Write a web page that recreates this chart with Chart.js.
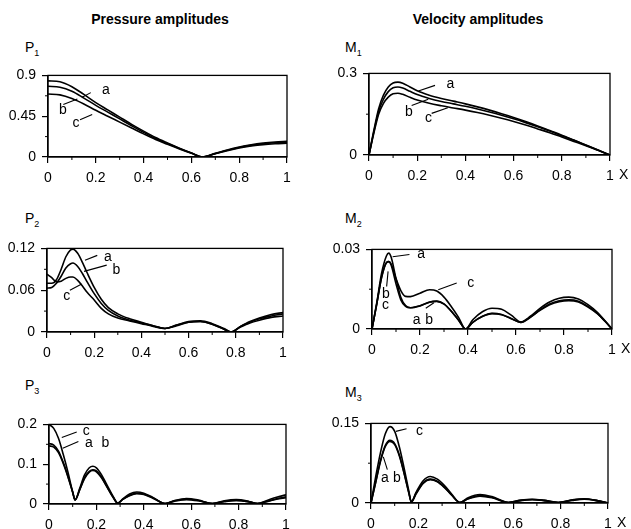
<!DOCTYPE html>
<html>
<head>
<meta charset="utf-8">
<script src="https://cdn.jsdelivr.net/npm/chart.js@4.4.0/dist/chart.umd.min.js"></script>
<style>
  body { margin: 0; background: #fff; width: 631px; height: 529px; position: relative; overflow: hidden;
         font-family: "Liberation Sans", Arial, sans-serif; color: #000; }
  .title { position: absolute; font-weight: bold; font-size: 14px; transform: translateX(-50%); white-space: nowrap; }
  .ylab { position: absolute; font-size: 14px; line-height: 16px; }
  .ylab span { font-size: 9px; position: relative; top: 4px; }
  canvas { position: absolute; }
</style>
</head>
<body>
<div class="title" style="left:160px;top:11px">Pressure amplitudes</div>
<div class="title" style="left:478px;top:11px">Velocity amplitudes</div>
<div class="ylab" style="left:25px;top:39px">P<span>1</span></div>
<div class="ylab" style="left:345px;top:39px">M<span>1</span></div>
<div class="ylab" style="left:25px;top:210px">P<span>2</span></div>
<div class="ylab" style="left:345px;top:210px">M<span>2</span></div>
<div class="ylab" style="left:25px;top:377px">P<span>3</span></div>
<div class="ylab" style="left:345px;top:384px">M<span>3</span></div>
<script>
// x ticks shared by all panels
const xTicks = [0, 0.2, 0.4, 0.6, 0.8, 1];
const xMinor = [0.1, 0.3, 0.5, 0.7, 0.9];

// P1 - pressure, mode 1
const p1X = [0, 0.05, 0.1, 0.15, 0.2, 0.25, 0.3, 0.35, 0.4, 0.45, 0.5, 0.55, 0.6, 0.645, 0.7, 0.75, 0.8, 0.85, 0.9, 0.95, 1];
const p1A = [0.84, 0.83, 0.775, 0.69, 0.6, 0.52, 0.44, 0.36, 0.285, 0.215, 0.155, 0.098, 0.045, 0, 0.04, 0.078, 0.11, 0.135, 0.153, 0.165, 0.172];
const p1B = [0.78, 0.77, 0.725, 0.65, 0.57, 0.495, 0.42, 0.345, 0.272, 0.205, 0.148, 0.094, 0.043, 0, 0.038, 0.074, 0.105, 0.128, 0.146, 0.157, 0.163];
const p1C = [0.695, 0.685, 0.645, 0.585, 0.515, 0.45, 0.385, 0.32, 0.255, 0.193, 0.14, 0.089, 0.041, 0, 0.036, 0.07, 0.099, 0.121, 0.137, 0.146, 0.151];
const p1YTicks = [0, 0.45, 0.9];
const p1YMinor = [0.225, 0.675];

// M1 - velocity, mode 1
const m1X = [0, 0.02, 0.04, 0.06, 0.08, 0.1, 0.12, 0.14, 0.17, 0.2, 0.25, 0.3, 0.35, 0.4, 0.45, 0.5, 0.55, 0.6, 0.65, 0.7, 0.75, 0.8, 0.85, 0.9, 0.95, 1];
const m1A = [0, 0.09, 0.17, 0.22, 0.25, 0.265, 0.268, 0.264, 0.25, 0.236, 0.22, 0.208, 0.198, 0.188, 0.177, 0.165, 0.152, 0.138, 0.123, 0.107, 0.09, 0.073, 0.055, 0.037, 0.018, 0];
const m1B = [0, 0.085, 0.16, 0.205, 0.233, 0.247, 0.25, 0.246, 0.234, 0.222, 0.208, 0.197, 0.188, 0.179, 0.169, 0.158, 0.146, 0.133, 0.119, 0.104, 0.088, 0.071, 0.054, 0.036, 0.018, 0];
const m1C = [0, 0.08, 0.15, 0.19, 0.213, 0.225, 0.227, 0.223, 0.212, 0.202, 0.19, 0.181, 0.173, 0.165, 0.156, 0.146, 0.135, 0.123, 0.11, 0.096, 0.082, 0.066, 0.05, 0.034, 0.017, 0];
const m1YTicks = [0, 0.3];
const m1YMinor = [0.15];

// P2
const p2X = [0, 0.02, 0.04, 0.06, 0.08, 0.1, 0.11, 0.13, 0.15, 0.17, 0.2, 0.23, 0.26, 0.3, 0.35, 0.4, 0.45, 0.5, 0.55, 0.6, 0.65, 0.7, 0.75, 0.78, 0.82, 0.86, 0.9, 0.95, 1];
const p2A = [0.07, 0.07, 0.075, 0.09, 0.108, 0.118, 0.119, 0.113, 0.1, 0.085, 0.064, 0.047, 0.035, 0.026, 0.019, 0.014, 0.009, 0.005, 0.01, 0.015, 0.016, 0.012, 0.005, 0, 0.008, 0.015, 0.02, 0.025, 0.028];
const p2B = [0.063, 0.064, 0.07, 0.08, 0.092, 0.098, 0.099, 0.094, 0.084, 0.072, 0.055, 0.041, 0.031, 0.023, 0.017, 0.013, 0.009, 0.005, 0.01, 0.014, 0.015, 0.011, 0.004, 0, 0.008, 0.014, 0.019, 0.023, 0.026];
const p2C = [0.083, 0.078, 0.072, 0.073, 0.077, 0.079, 0.079, 0.074, 0.066, 0.057, 0.046, 0.034, 0.026, 0.02, 0.016, 0.012, 0.008, 0.005, 0.009, 0.014, 0.015, 0.011, 0.004, 0, 0.007, 0.013, 0.017, 0.021, 0.023];
const p2YTicks = [0, 0.06, 0.12];
const p2YMinor = [0.03, 0.09];

// M2
const m2X = [0, 0.02, 0.04, 0.06, 0.07, 0.08, 0.1, 0.12, 0.14, 0.16, 0.2, 0.24, 0.27, 0.3, 0.33, 0.36, 0.39, 0.42, 0.46, 0.5, 0.54, 0.58, 0.62, 0.66, 0.7, 0.74, 0.78, 0.82, 0.86, 0.9, 0.94, 0.97, 1];
const m2A = [0, 0.01, 0.021, 0.0275, 0.0286, 0.027, 0.019, 0.012, 0.0088, 0.008, 0.0088, 0.0102, 0.0105, 0.0095, 0.0068, 0.0035, 0, 0.0025, 0.0048, 0.0059, 0.0055, 0.004, 0.0025, 0.0045, 0.0072, 0.0094, 0.0106, 0.011, 0.0105, 0.0085, 0.0058, 0.003, 0];
const m2B = [0, 0.0095, 0.0195, 0.025, 0.0254, 0.024, 0.017, 0.011, 0.0085, 0.008, 0.0087, 0.0101, 0.0104, 0.0094, 0.0067, 0.0034, 0, 0.0025, 0.0047, 0.0058, 0.0054, 0.0039, 0.0025, 0.0044, 0.007, 0.0091, 0.0103, 0.0107, 0.0102, 0.0083, 0.0057, 0.003, 0];
const m2C = [0, 0.0095, 0.0195, 0.025, 0.0254, 0.0245, 0.019, 0.0145, 0.0123, 0.0122, 0.0135, 0.0148, 0.0143, 0.012, 0.0085, 0.0045, 0, 0.0035, 0.0065, 0.0078, 0.0074, 0.0052, 0.0027, 0.0048, 0.0078, 0.0102, 0.0116, 0.012, 0.0113, 0.0092, 0.0062, 0.0032, 0];
const m2YTicks = [0, 0.03];
const m2YMinor = [0.015];

// P3
const p3X = [0, 0.02, 0.04, 0.06, 0.08, 0.1, 0.11, 0.13, 0.15, 0.17, 0.185, 0.2, 0.22, 0.25, 0.27, 0.29, 0.31, 0.34, 0.37, 0.4, 0.44, 0.49, 0.53, 0.58, 0.63, 0.69, 0.74, 0.79, 0.84, 0.88, 0.92, 0.96, 1];
const p3A = [0.152, 0.148, 0.133, 0.105, 0.07, 0.03, 0.01, 0.037, 0.066, 0.082, 0.086, 0.083, 0.069, 0.038, 0.018, 0.002, 0.011, 0.022, 0.027, 0.025, 0.015, 0.001, 0.008, 0.012, 0.009, 0.001, 0.007, 0.009, 0.006, 0.001, 0.007, 0.013, 0.018];
const p3B = [0.146, 0.143, 0.129, 0.102, 0.068, 0.029, 0.01, 0.036, 0.064, 0.08, 0.084, 0.081, 0.067, 0.037, 0.017, 0.002, 0.011, 0.021, 0.026, 0.024, 0.014, 0.001, 0.007, 0.011, 0.008, 0.001, 0.006, 0.009, 0.006, 0.001, 0.006, 0.012, 0.016];
const p3C = [0.2, 0.19, 0.165, 0.125, 0.08, 0.03, 0.01, 0.04, 0.073, 0.091, 0.095, 0.091, 0.075, 0.042, 0.02, 0.002, 0.012, 0.025, 0.03, 0.027, 0.016, 0.001, 0.009, 0.014, 0.01, 0.001, 0.008, 0.011, 0.007, 0.001, 0.009, 0.017, 0.023];
const p3YTicks = [0, 0.1, 0.2];
const p3YMinor = [0.05, 0.15];

// M3
const m3X = [0, 0.02, 0.04, 0.06, 0.08, 0.1, 0.12, 0.14, 0.16, 0.17, 0.19, 0.22, 0.25, 0.28, 0.31, 0.34, 0.375, 0.41, 0.46, 0.51, 0.58, 0.63, 0.68, 0.73, 0.79, 0.85, 0.9, 0.95, 1];
const m3A = [0, 0.04, 0.08, 0.108, 0.118, 0.112, 0.09, 0.056, 0.019, 0.002, 0.018, 0.038, 0.045, 0.041, 0.03, 0.015, 0.001, 0.008, 0.014, 0.011, 0.001, 0.005, 0.0065, 0.005, 0.001, 0.0055, 0.0075, 0.005, 0];
const m3B = [0, 0.039, 0.078, 0.106, 0.116, 0.11, 0.088, 0.055, 0.018, 0.002, 0.017, 0.037, 0.044, 0.04, 0.029, 0.015, 0.001, 0.008, 0.013, 0.01, 0.001, 0.0045, 0.006, 0.0045, 0.001, 0.005, 0.007, 0.0045, 0];
const m3C = [0, 0.05, 0.095, 0.13, 0.144, 0.135, 0.105, 0.065, 0.022, 0.002, 0.02, 0.042, 0.05, 0.045, 0.033, 0.017, 0.001, 0.01, 0.016, 0.012, 0.001, 0.005, 0.007, 0.005, 0.001, 0.006, 0.008, 0.005, 0];
const m3YTicks = [0, 0.15];
const m3YMinor = [0.075];

// curve labels (text, x, y) and leader lines (x1, y1, x2, y2), in data units
const p1Labels = [["a", 0.226, 0.736], ["b", 0.046, 0.52], ["c", 0.102, 0.37]];
const p1Leaders = [[0.143, 0.66, 0.179, 0.71], [0.064, 0.58, 0.123, 0.64], [0.134, 0.41, 0.185, 0.47]];
const m1Labels = [["a", 0.322, 0.259], ["b", 0.149, 0.159], ["c", 0.232, 0.136]];
const m1Leaders = [[0.205, 0.235, 0.274, 0.256], [0.177, 0.182, 0.246, 0.205], [0.26, 0.153, 0.327, 0.174]];
const p2Labels = [["a", 0.242, 0.108], ["b", 0.278, 0.089], ["c", 0.069, 0.0516]];
const p2Leaders = [[0.161, 0.103, 0.213, 0.11], [0.157, 0.087, 0.253, 0.096], [0.097, 0.06, 0.147, 0.069]];
const m2Labels = [["a", 0.189, 0.0281], ["b", 0.042, 0.0133], ["c", 0.042, 0.0091], ["c", 0.397, 0.0171], ["a", 0.17, 0.0034], ["b", 0.222, 0.0034]];
const m2Leaders = [[0.086, 0.0272, 0.156, 0.0281], [0.067, 0.0217, 0.061, 0.016], [0.276, 0.0148, 0.353, 0.0173], [0.224, 0.0078, 0.258, 0.0099]];
const p3Labels = [["c", 0.142, 0.184], ["a", 0.152, 0.153], ["b", 0.222, 0.153]];
const p3Leaders = [[0.054, 0.167, 0.117, 0.181], [0.058, 0.14, 0.124, 0.157]];
const m3Labels = [["c", 0.19, 0.136], ["a", 0.042, 0.046], ["b", 0.093, 0.046]];
const m3Leaders = [[0.105, 0.135, 0.15, 0.14], [0.052, 0.087, 0.069, 0.063]];

const FONT = "'Liberation Sans', Arial, sans-serif";
const YW = 48, XH = 30, PT = 8, PR = 26;

function makePanel(box, xs, curves, yMax, yTicks, yMinor, labels, leaders, showX) {
  const cv = document.createElement("canvas");
  const w = box.r - box.l + YW + PR, h = box.b - box.t + PT + XH;
  cv.width = w; cv.height = h;
  cv.style.left = (box.l - YW) + "px";
  cv.style.top = (box.t - PT) + "px";
  document.body.appendChild(cv);

  const deco = {
    id: "deco",
    afterDraw(chart) {
      const { ctx, chartArea: a, scales } = chart;
      const sx = scales.x, sy = scales.y;
      ctx.save();
      ctx.strokeStyle = "#000";
      ctx.lineWidth = 1.3;
      ctx.strokeRect(a.left, a.top, a.right - a.left, a.bottom - a.top);
      ctx.lineWidth = 1;
      ctx.beginPath();
      xMinor.forEach(v => {
        const px = sx.getPixelForValue(v);
        ctx.moveTo(px, a.bottom); ctx.lineTo(px, a.bottom + 3);
      });
      yMinor.forEach(v => {
        const py = sy.getPixelForValue(v);
        ctx.moveTo(a.left, py); ctx.lineTo(a.left - 3, py);
      });
      ctx.stroke();
      ctx.lineWidth = 1.1;
      ctx.beginPath();
      leaders.forEach(([x1, y1, x2, y2]) => {
        ctx.moveTo(sx.getPixelForValue(x1), sy.getPixelForValue(y1));
        ctx.lineTo(sx.getPixelForValue(x2), sy.getPixelForValue(y2));
      });
      ctx.stroke();
      ctx.fillStyle = "#000";
      ctx.font = "14px " + FONT;
      ctx.textAlign = "left";
      ctx.textBaseline = "middle";
      labels.forEach(([t, x, y]) => {
        ctx.fillText(t, sx.getPixelForValue(x), sy.getPixelForValue(y));
      });
      if (showX) {
        ctx.fillText("X", a.right + 9, a.bottom + 20);
      }
      ctx.restore();
    }
  };

  return new Chart(cv, {
    type: "line",
    data: {
      datasets: curves.map(ys => ({
        data: xs.map((x, i) => ({ x: x, y: ys[i] })),
        borderColor: "#000",
        borderWidth: 1.6,
        pointRadius: 0,
        fill: false,
        cubicInterpolationMode: "monotone"
      }))
    },
    options: {
      responsive: false,
      animation: false,
      events: [],
      layout: { padding: { left: 0, top: PT, right: PR, bottom: 0 } },
      plugins: { legend: { display: false }, tooltip: { enabled: false } },
      scales: {
        x: {
          type: "linear", min: 0, max: 1,
          afterBuildTicks: s => { s.ticks = xTicks.map(v => ({ value: v })); },
          afterFit: s => { s.height = XH; },
          grid: { drawOnChartArea: false, tickLength: 6, color: "#000", lineWidth: 1.2 },
          border: { color: "#000", width: 1.3 },
          ticks: { color: "#000", font: { family: FONT, size: 14 }, padding: 7, maxRotation: 0, autoSkip: false,
                   callback: v => String(v) }
        },
        y: {
          type: "linear", min: 0, max: yMax,
          afterBuildTicks: s => { s.ticks = yTicks.map(v => ({ value: v })); },
          afterFit: s => { s.width = YW; },
          grid: { drawOnChartArea: false, tickLength: 6, color: "#000", lineWidth: 1.2 },
          border: { color: "#000", width: 1.3 },
          ticks: { color: "#000", font: { family: FONT, size: 14 }, padding: 6, autoSkip: false,
                   callback: v => String(v) }
        }
      }
    },
    plugins: [deco]
  });
}

makePanel({ l: 48, t: 69, r: 287, b: 157 }, p1X, [p1A, p1B, p1C], 0.9, p1YTicks, p1YMinor, p1Labels, p1Leaders, false);
makePanel({ l: 369, t: 67, r: 610, b: 155 }, m1X, [m1A, m1B, m1C], 0.3, m1YTicks, m1YMinor, m1Labels, m1Leaders, true);
makePanel({ l: 47, t: 242, r: 283, b: 332 }, p2X, [p2A, p2B, p2C], 0.12, p2YTicks, p2YMinor, p2Labels, p2Leaders, false);
makePanel({ l: 372, t: 243, r: 612, b: 329 }, m2X, [m2A, m2B, m2C], 0.03, m2YTicks, m2YMinor, m2Labels, m2Leaders, true);
makePanel({ l: 49, t: 418, r: 286, b: 504 }, p3X, [p3A, p3B, p3C], 0.2, p3YTicks, p3YMinor, p3Labels, p3Leaders, false);
makePanel({ l: 371, t: 417, r: 608, b: 503 }, m3X, [m3A, m3B, m3C], 0.15, m3YTicks, m3YMinor, m3Labels, m3Leaders, true);
</script>
</body>
</html>
